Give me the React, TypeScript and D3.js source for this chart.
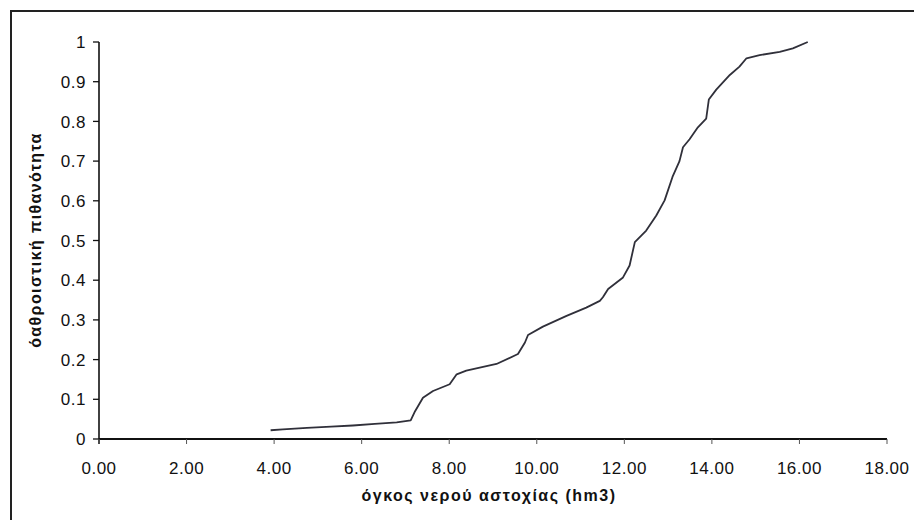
import React from "react";
import * as d3 from "d3";

const volumes: number[] = [
  3.92, 4.2, 4.75, 5.3, 5.8, 6.3, 6.8, 7.12, 7.22, 7.4, 7.63, 8.01, 8.17, 8.39,
  9.08, 9.57, 9.73, 9.8, 10.14, 10.68, 11.13, 11.44, 11.51, 11.63, 11.97, 12.12,
  12.24, 12.5, 12.73, 12.92, 13.1, 13.26, 13.34, 13.49, 13.68, 13.87, 13.93,
  14.1, 14.41, 14.63, 14.79, 15.09, 15.55, 15.85, 16.19,
];
const probs: number[] = [
  0.022, 0.024, 0.028, 0.031, 0.034, 0.038, 0.042, 0.047, 0.07, 0.104, 0.121,
  0.138, 0.163, 0.172, 0.189, 0.214, 0.243, 0.262, 0.283, 0.31, 0.331, 0.348,
  0.357, 0.378, 0.407, 0.437, 0.496, 0.525, 0.563, 0.601, 0.66, 0.7, 0.735,
  0.755, 0.785, 0.807, 0.855, 0.88, 0.917, 0.938, 0.959, 0.967, 0.975, 0.984,
  1.0,
];
const xTicks: number[] = [0, 2, 4, 6, 8, 10, 12, 14, 16, 18];
const yTicks: number[] = [0, 0.1, 0.2, 0.3, 0.4, 0.5, 0.6, 0.7, 0.8, 0.9, 1];
const xTitle = "όγκος νερού αστοχίας (hm3)";
const yTitle = "όαθροιστική πιθανότητα";

const W = 914;
const H = 520;
const FONT = "'Liberation Sans', Arial, sans-serif";

export default function App() {
  const x = d3.scaleLinear().domain([0, 18]).range([99, 887]);
  const y = d3.scaleLinear().domain([0, 1]).range([439, 42]);
  const pts: [number, number][] = volumes.map((v, i) => [v, probs[i]]);
  const line = d3
    .line<[number, number]>()
    .x((d) => x(d[0]))
    .y((d) => y(d[1]));
  const yFmt = (v: number) => (v === 0 || v === 1 ? String(v) : d3.format(".1f")(v));

  return (
    <svg
      width={W}
      height={H}
      style={{ position: "absolute", left: 0, top: 0, background: "#fff" }}
    >
      <rect x={0} y={0} width={W} height={H} fill="#fff" />
      <rect x={11} y={11} width={W + 20} height={H + 20} fill="none" stroke="#222" strokeWidth={2} />
      <line x1={x(0)} x2={x(18)} y1={y(0)} y2={y(0)} stroke="#111" strokeWidth={2} />
      <line x1={x(0)} x2={x(0)} y1={y(1)} y2={y(0) + 5} stroke="#111" strokeWidth={1.6} />
      {yTicks.map((t) => (
        <g key={"y" + t}>
          <line x1={x(0) - 6} x2={x(0)} y1={y(t)} y2={y(t)} stroke="#111" strokeWidth={1.3} />
          <text
            x={86}
            y={y(t)}
            dy="0.36em"
            textAnchor="end"
            fontFamily={FONT}
            fontSize={17}
            letterSpacing={0.5}
            fill="#111"
          >
            {yFmt(t)}
          </text>
        </g>
      ))}
      {xTicks.map((t) => (
        <g key={"x" + t}>
          <line x1={x(t)} x2={x(t)} y1={y(0)} y2={y(0) + 5} stroke="#555" strokeWidth={1} />
          <text
            x={x(t)}
            y={474}
            textAnchor="middle"
            fontFamily={FONT}
            fontSize={17}
            letterSpacing={0.5}
            fill="#111"
          >
            {d3.format(".2f")(t)}
          </text>
        </g>
      ))}
      <path d={line(pts) || ""} fill="none" stroke="#30303a" strokeWidth={1.8} strokeLinejoin="round" />
      <text
        x={489}
        y={501}
        textAnchor="middle"
        fontFamily={FONT}
        fontSize={16}
        fontWeight="bold"
        letterSpacing={1.5}
        fill="#111"
      >
        {xTitle}
      </text>
      <text
        transform="translate(41,240) rotate(-90)"
        textAnchor="middle"
        fontFamily={FONT}
        fontSize={16}
        fontWeight="bold"
        letterSpacing={1.4}
        fill="#111"
      >
        {yTitle}
      </text>
    </svg>
  );
}
